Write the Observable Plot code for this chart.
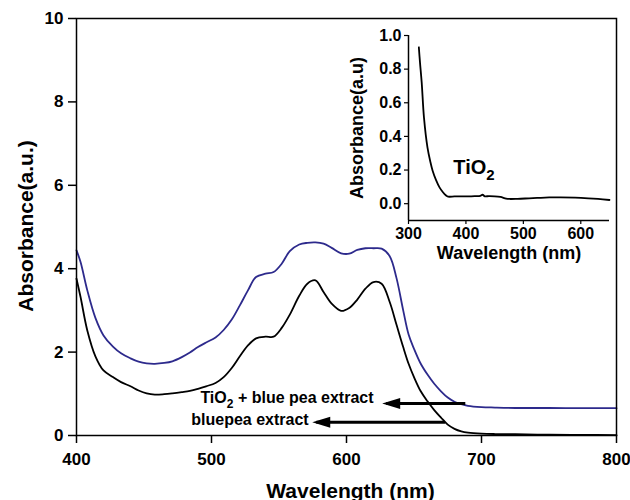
<!DOCTYPE html>
<html>
<head>
<meta charset="utf-8">
<script src="https://cdn.jsdelivr.net/npm/d3@7"></script>
<script src="https://cdn.jsdelivr.net/npm/@observablehq/plot@0.6"></script>
<style>
  body { margin: 0; background: #fff; }
  #chart { position: relative; width: 630px; height: 500px; }
  #chart svg { position: absolute; }
</style>
</head>
<body>
<div id="chart"></div>
<script>
// UV-Vis absorbance spectra: blue pea extract alone and adsorbed on TiO2
const wavelength = [400, 403, 408, 414, 420, 427, 433, 440, 446, 452, 458, 465, 471, 478, 484, 490, 496, 503, 509, 515, 521, 527, 533, 540, 546, 552, 558, 565, 571, 577, 583, 589, 596, 602, 608, 614, 620, 626, 632, 637, 642, 646, 650, 655, 660, 665, 670, 675, 680, 685, 690, 700, 710, 725, 750, 775, 800];
const tio2ExtractAbs = [4.44, 4.16, 3.48, 2.82, 2.40, 2.13, 1.97, 1.85, 1.77, 1.73, 1.72, 1.74, 1.78, 1.88, 1.99, 2.12, 2.23, 2.35, 2.53, 2.78, 3.12, 3.48, 3.80, 3.88, 3.92, 4.12, 4.42, 4.58, 4.62, 4.63, 4.60, 4.50, 4.37, 4.36, 4.45, 4.49, 4.49, 4.48, 4.30, 3.78, 3.00, 2.42, 2.08, 1.72, 1.46, 1.24, 1.06, 0.91, 0.81, 0.75, 0.71, 0.68, 0.67, 0.66, 0.66, 0.655, 0.655];
const extractAbs = [3.76, 3.32, 2.52, 1.90, 1.56, 1.40, 1.28, 1.18, 1.08, 1.01, 0.98, 0.99, 1.01, 1.04, 1.07, 1.12, 1.18, 1.26, 1.40, 1.62, 1.90, 2.16, 2.33, 2.37, 2.37, 2.58, 2.90, 3.35, 3.64, 3.72, 3.44, 3.16, 2.99, 3.06, 3.26, 3.52, 3.68, 3.64, 3.20, 2.66, 2.12, 1.72, 1.40, 1.06, 0.82, 0.61, 0.43, 0.26, 0.16, 0.10, 0.07, 0.045, 0.035, 0.03, 0.02, 0.015, 0.01];

// bare TiO2 spectrum (inset)
const tio2Wavelength = [318, 320, 323, 327, 333, 338, 342, 348, 354, 360, 365, 369, 380, 393, 405, 417, 425, 429, 433, 440, 450, 460, 470, 476, 490, 510, 524, 545, 565, 590, 613, 630, 650];
const tio2Abs = [0.93, 0.84, 0.72, 0.51, 0.335, 0.25, 0.196, 0.14, 0.097, 0.068, 0.05, 0.042, 0.043, 0.044, 0.043, 0.045, 0.047, 0.053, 0.044, 0.045, 0.044, 0.04, 0.03, 0.028, 0.029, 0.032, 0.034, 0.037, 0.038, 0.036, 0.032, 0.028, 0.022];

// axes
const xTicks = [400, 500, 600, 700, 800];
const yTicks = [0, 2, 4, 6, 8, 10];
const insetXTicks = [300, 400, 500, 600];
const insetYTicks = [0, 0.2, 0.4, 0.6, 0.8, 1.0];
const xTitle = "Wavelength (nm)";
const yTitle = "Absorbance(a.u.)";
const insetXTitle = "Wavelength (nm)";
const insetYTitle = "Absorbance(a.u)";
const insetLabel = "TiO2";
const insetLabelAt = [378, 0.177];

// annotation labels and their arrows
const labelText = ["TiO2 + blue pea extract", "bluepea extract"];
const labelEndX = [620, 572];
const labelBaseline = [0.775, 0.257];
const arrowFrom = [688, 673];
const arrowTo = [629.4, 577.6];
const arrowLevel = [0.767, 0.319];

const BLUE = "#2d2a8c";
const FONT = "'Liberation Sans', Arial, Helvetica, sans-serif";

const mixData = wavelength.map((w, i) => ({w, a: tio2ExtractAbs[i]}));
const extractData = wavelength.map((w, i) => ({w, a: extractAbs[i]}));
const tio2Data = tio2Wavelength.map((w, i) => ({w, a: tio2Abs[i]}));
const labels = labelText.map((t, i) => ({t, x: labelEndX[i], y: labelBaseline[i]}));
const arrows = arrowFrom.map((f, i) => ({from: f, to: arrowTo[i], level: arrowLevel[i]}));

// filled arrowhead pointing left, tip slightly ahead of the shaft end
const arrowHead = {
  draw(context) {
    context.moveTo(-4, 0);
    context.lineTo(14, -5.5);
    context.lineTo(14, 5.5);
    context.closePath();
  }
};

const main = Plot.plot({
  width: 630,
  height: 500,
  marginLeft: 76,
  marginRight: 14,
  marginTop: 18,
  marginBottom: 65,
  style: {fontFamily: FONT, background: "white", color: "black"},
  x: {domain: [400, 800]},
  y: {domain: [0, 10]},
  marks: [
    Plot.line(mixData, {x: "w", y: "a", stroke: BLUE, strokeWidth: 1.8, curve: "catmull-rom"}),
    Plot.line(extractData, {x: "w", y: "a", stroke: "black", strokeWidth: 1.8, curve: "catmull-rom"}),
    Plot.link(arrows, {x1: "from", x2: "to", y1: "level", y2: "level", stroke: "black", strokeWidth: 3}),
    Plot.dot(arrows, {x: "to", y: "level", symbol: arrowHead, fill: "black", stroke: "none"}),
    Plot.text(labels, {x: "x", y: "y", text: "t", textAnchor: "end", lineAnchor: "bottom", fontSize: 16, fontWeight: "bold", fill: "black"}),
    Plot.frame({stroke: "black", strokeWidth: 1.5}),
    Plot.axisX({ticks: xTicks, tickSize: 8, tickPadding: 9, fontSize: 17, fontWeight: "bold", strokeWidth: 1.5, label: null, tickFormat: d => String(d)}),
    Plot.axisY({ticks: yTicks, tickSize: 8, tickPadding: 5, fontSize: 17, fontWeight: "bold", strokeWidth: 1.5, label: null, tickFormat: d => String(d)}),
    Plot.text([xTitle], {text: d => d, frameAnchor: "bottom", dx: 4, dy: 62, lineAnchor: "bottom", fontSize: 21, fontWeight: "bold"}),
    Plot.text([yTitle], {text: d => d, frameAnchor: "left", textAnchor: "middle", rotate: -90, dx: -44, dy: -1, lineAnchor: "bottom", fontSize: 21, fontWeight: "bold"})
  ]
});

const inset = Plot.plot({
  width: 290,
  height: 260,
  marginLeft: 78,
  marginRight: 11,
  marginTop: 15,
  marginBottom: 60,
  style: {fontFamily: FONT, background: "transparent", color: "black"},
  x: {domain: [300, 650]},
  y: {domain: [-0.1, 1.0]},
  marks: [
    Plot.ruleX([300], {stroke: "black", strokeWidth: 1.5}),
    Plot.ruleY([-0.1], {stroke: "black", strokeWidth: 1.5}),
    Plot.line(tio2Data, {x: "w", y: "a", stroke: "black", strokeWidth: 1.8, curve: "catmull-rom"}),
    Plot.axisX({ticks: insetXTicks, tickSize: 4, tickPadding: 3, fontSize: 16, fontWeight: "bold", strokeWidth: 1.2, label: null, tickFormat: d => String(d)}),
    Plot.axisY({ticks: insetYTicks, tickSize: 4, tickPadding: 3, fontSize: 16, fontWeight: "bold", strokeWidth: 1.2, label: null, tickFormat: d3.format(".1f")}),
    Plot.text([insetXTitle], {text: d => d, frameAnchor: "bottom", dy: 38, lineAnchor: "bottom", fontSize: 18, fontWeight: "bold"}),
    Plot.text([insetYTitle], {text: d => d, frameAnchor: "left", textAnchor: "middle", rotate: -90, dx: -46, lineAnchor: "bottom", fontSize: 18, fontWeight: "bold"}),
    Plot.text([insetLabel], {text: d => d, x: insetLabelAt[0], y: insetLabelAt[1], textAnchor: "start", lineAnchor: "bottom", fontSize: 20, fontWeight: "bold"})
  ]
});

const chart = document.getElementById("chart");
main.style.left = "0px";
main.style.top = "0px";
inset.style.left = "330px";
inset.style.top = "20px";
chart.append(main, inset);

// write the "2" of TiO2 as a subscript
function subscriptTiO2(svg) {
  svg.querySelectorAll("text").forEach(el => {
    const s = el.textContent;
    const i = s.indexOf("TiO2");
    if (i < 0 || el.querySelector("tspan")) return;
    const fs = parseFloat(getComputedStyle(el).fontSize) || 16;
    const sub = Math.round(fs * 0.76);
    const shift = Math.round(fs * 0.3);
    const ns = "http://www.w3.org/2000/svg";
    el.textContent = "";
    el.append(document.createTextNode(s.slice(0, i) + "TiO"));
    const t2 = document.createElementNS(ns, "tspan");
    t2.setAttribute("dy", shift);
    t2.setAttribute("font-size", sub);
    t2.textContent = "2";
    el.append(t2);
    const rest = s.slice(i + 4);
    if (rest) {
      const t3 = document.createElementNS(ns, "tspan");
      t3.setAttribute("dy", -shift);
      t3.textContent = rest;
      el.append(t3);
    }
  });
}
subscriptTiO2(main);
subscriptTiO2(inset);
</script>
</body>
</html>
